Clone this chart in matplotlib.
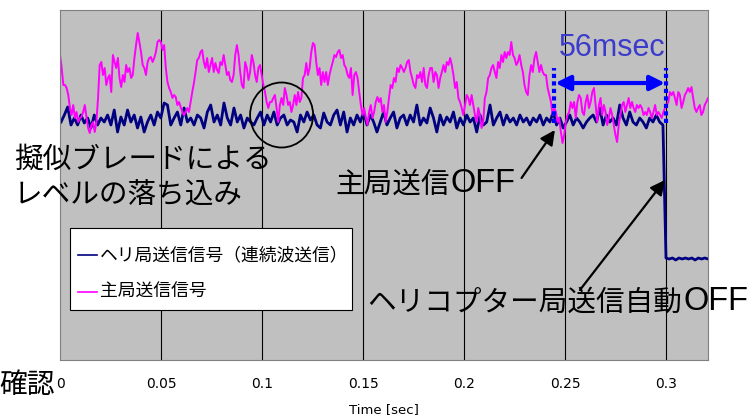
import numpy as np
import matplotlib
matplotlib.use("Agg")
import matplotlib.pyplot as plt
from matplotlib.patches import Ellipse, Rectangle
from matplotlib.lines import Line2D

plt.rcParams['font.family'] = ['Noto Sans CJK JP', 'DejaVu Sans']

# received level of the main station (magenta), evenly sampled 0 .. 0.3208 s
main_level = [
    305, 292, 275, 275, 272, 265, 252, 245, 255, 242,
    248, 238, 242, 243, 248, 255, 243, 232, 227, 235,
    238, 228, 238, 262, 295, 298, 285, 292, 275, 282,
    285, 268, 305, 298, 292, 302, 282, 273, 285, 278,
    295, 288, 292, 282, 285, 302, 315, 327, 318, 308,
    295, 292, 285, 298, 302, 303, 298, 302, 308, 318,
    320, 318, 310,
    315, 292, 278, 272, 268, 262, 265, 263, 255, 258,
    253, 248, 245, 248, 252, 248, 258, 268, 277, 288,
    300, 302, 308, 310, 298, 292, 302, 288, 295, 302,
    288, 297, 290, 287, 298, 295, 305, 295, 285, 288,
    280, 278, 285, 305, 315, 305, 288, 275, 272, 298,
    292, 280, 288, 305, 298, 285, 278, 292, 295, 285,
    275, 268, 258, 252, 258,
    258, 262, 265, 252, 238, 255, 262, 255, 272, 265,
    255, 258, 248, 255, 265, 255, 268, 258, 262, 282,
    285, 297, 285, 292, 308, 317, 315, 298, 285, 292,
    275, 288, 278, 288, 275, 285, 292, 298, 305, 303,
    308, 310, 302, 305, 295, 292, 285, 282, 292, 265,
    285, 288, 282, 268, 255, 245, 252, 242, 235, 248,
    255, 242, 248, 258, 263,
    258, 262, 248, 255, 238, 248, 262, 275, 272, 282,
    278, 292, 288, 295, 292, 288, 292, 298, 300, 288,
    282, 275, 272, 285, 282, 288, 278, 292, 275, 272,
    285, 292, 292, 278, 288, 285, 272, 282, 288, 295,
    288, 298, 295, 302, 295, 285, 272, 278, 262, 258,
    252, 245, 255, 265, 262, 255, 265, 255, 245, 238,
    252, 245, 232, 238, 262,
    268, 282, 285, 292, 295, 288, 282, 298, 292, 305,
    298, 308, 302, 308, 305, 318, 305, 302, 295, 298,
    305, 295, 288, 275, 268, 265, 285, 295, 288, 302,
    308, 298, 288, 295, 288, 285, 285, 272, 265, 258,
    245, 252, 248, 238, 242, 228, 217, 225, 238, 245,
    248, 258, 252, 258, 242, 258, 265, 262, 248, 245,
    258, 265, 252, 258, 268,
    272, 255, 238, 255, 262, 245, 255, 248, 235, 242,
    252, 245, 235, 225, 218, 235, 245, 255, 258, 248,
    255, 262, 252, 258, 252, 248, 255, 252, 255, 252,
    245, 248, 245, 252, 248, 242, 248, 255, 245, 248,
    245, 242, 248, 252, 255, 258, 268, 265, 268, 262,
    255, 268, 265, 252, 258, 265, 268, 272, 268, 273,
    262, 252, 248, 252, 255, 245, 248, 255, 258, 262,
]

# helicopter station level (navy) while transmitting, 0 .. 0.2985 s
heli_on = [
    238, 245, 253, 235, 242, 235, 245, 237, 242, 232, 245, 235, 242, 238, 245, 235,
    250, 228, 243, 235, 250, 238, 245, 232, 243, 228, 238, 245, 235, 248, 242, 257,
    255, 235, 242, 248, 235, 252, 238, 242, 235, 245, 242, 232, 248, 255, 238, 245,
    235, 257, 242, 235, 252, 238, 245, 232, 242, 238, 235, 242, 248, 235, 245, 238,
    248, 235, 242, 245, 235, 240, 238, 228, 245, 238, 248, 240, 245, 235, 232, 247,
    238, 235, 245, 250, 235, 248, 228, 242, 235, 245, 238, 248, 235, 245, 238, 228,
    238, 248, 235, 242, 248, 232, 242, 245, 235, 245, 238, 255, 235, 242, 237, 252,
    242, 228, 245, 235, 243, 238, 248, 232, 242, 235, 245, 238, 242, 228, 245, 235,
    238, 255, 235, 242, 248, 235, 245, 238, 242, 235, 245, 238, 242, 235, 242, 238,
    245, 235, 242, 238, 248, 235, 242, 232, 238, 245, 235, 242, 238, 232, 238, 242,
    245, 238, 252, 235, 245, 238, 242, 235, 255, 242, 235, 248, 238, 235, 242, 238,
    232, 242, 238, 245, 238, 235,
]
# after the automatic OFF, 0.3 .. 0.3208 s
heli_off = [102, 101, 102, 100, 102, 101, 102, 101, 102, 100, 102, 101, 102, 101]

x_ticks = [0, 0.05, 0.1, 0.15, 0.2, 0.25, 0.3]
x_tick_labels = ['0', '0.05', '0.1', '0.15', '0.2', '0.25', '0.3']
legend_labels = ['ヘリ局送信信号（連続波送信）', '主局送信信号']

t_main = np.linspace(0, 0.3208, len(main_level))
t_heli = np.concatenate([np.linspace(0.0005, 0.2985, len(heli_on)),
                         np.linspace(0.3, 0.3208, len(heli_off))])
heli = np.concatenate([heli_on, heli_off])

fig = plt.figure(figsize=(7.54, 4.17), dpi=100)
ax = fig.add_axes([0.0796, 0.1367, 0.8594, 0.8393])
ax.set_facecolor('#c0c0c0')

ax.plot(t_heli, heli, color='#000080', lw=2.0)
ax.plot(t_main, main_level, color='#ff00ff', lw=1.4)

ax.set_xlim(0, 0.3208)
ax.set_ylim(0, 350)
ax.set_xticks(x_ticks)
ax.set_xticklabels(x_tick_labels, fontsize=10, family='DejaVu Sans')
ax.tick_params(axis='x', length=0, pad=12)
ax.set_yticks([])
for xv in x_ticks[1:]:
    ax.axvline(xv, color='black', lw=0.8, zorder=1)
for s in ax.spines.values():
    s.set_color('#808080')
ax.set_xlabel('Time [sec]', fontsize=9.5, family='DejaVu Sans', labelpad=9)

# 56 msec marker
for xv in (0.2445, 0.3):
    ax.plot([xv, xv], [237, 292], color='#0000ff', lw=3, linestyle=(0, (1, 0.8)),
            solid_capstyle='butt', dash_capstyle='butt', zorder=5)
ax.annotate('', xy=(0.2995, 277), xytext=(0.2452, 277),
            arrowprops=dict(arrowstyle='<|-|>', color='#0000ff', lw=3, mutation_scale=22,
                            shrinkA=0, shrinkB=0), zorder=6)
ax.text(0.2733, 312, '56msec', color='#3c3ccc', fontsize=22, ha='center', va='center',
        family='Liberation Sans')

# circle around the dip
ax.add_patch(Ellipse((0.1097, 245), 0.0312, 65, fill=False, edgecolor='black', lw=1.3, zorder=7))

ax.text(-0.0228, 200, '擬似ブレードによる', fontsize=20.6, ha='left', va='center', clip_on=False)
ax.text(-0.0228, 165, 'レベルの落ち込み', fontsize=20.6, ha='left', va='center', clip_on=False)


def label_off(x, y, head, gap=1):
    t = ax.text(x, y, head, fontsize=20.6, ha='left', va='center', clip_on=False)
    ax.annotate('OFF', xy=(1, 0.5), xycoords=t, xytext=(gap, 1), textcoords='offset points',
                fontsize=23.5, family='Liberation Sans', ha='left', va='center',
                annotation_clip=False)


label_off(0.1361, 175, '主局送信')
ax.annotate('', xy=(0.245, 230), xytext=(0.2285, 182),
            arrowprops=dict(arrowstyle='-|>', color='black', lw=1.6, mutation_scale=22,
                            shrinkA=0, shrinkB=0))

label_off(0.152, 57, 'ヘリコプター局送信自動')
ax.annotate('', xy=(0.2995, 180), xytext=(0.2574, 70),
            arrowprops=dict(arrowstyle='-|>', color='black', lw=1.6, mutation_scale=22,
                            shrinkA=0, shrinkB=0))

# legend box
ax.add_patch(Rectangle((0.0154, 0.1429), 0.4352, 0.2343, transform=ax.transAxes,
                       facecolor='white', edgecolor='black', lw=0.8, zorder=8))
for yy, col, lab in ((0.3, '#000080', legend_labels[0]), (0.194, '#ff00ff', legend_labels[1])):
    ax.add_line(Line2D([0.0278, 0.0571], [yy, yy], transform=ax.transAxes, color=col, lw=1.2, zorder=9))
    ax.text(0.062, yy, lab, transform=ax.transAxes, fontsize=12.8, ha='left', va='center', zorder=9)

fig.text(55 / 754, 1 - 385 / 417, '確認', fontsize=20, ha='right', va='center')

fig.savefig('out.png', dpi=100)
